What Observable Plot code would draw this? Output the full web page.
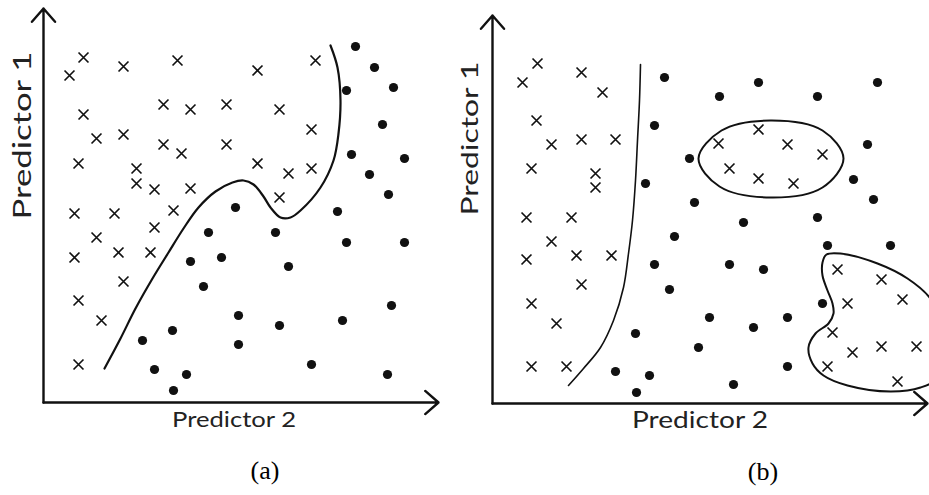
<!DOCTYPE html>
<html><head><meta charset="utf-8">
<script src="https://cdn.jsdelivr.net/npm/d3@7"></script>
<script src="https://cdn.jsdelivr.net/npm/@observablehq/plot@0.6"></script>
<style>
body{margin:0;background:#fff}
#wrap{display:flex;width:929px;height:495px;overflow:hidden;background:#fff}
#wrap svg{flex:none;overflow:visible}
</style>
</head><body><div id="wrap"></div>
<script>
// ---------- data (units: Predictor 2 on x, Predictor 1 on y) ----------
const yLabel = "Predictor 1";
const xLabel = "Predictor 2";
const panelTags = ["(a)", "(b)"];

// panel (a)
const aCrosses = [[40,345],[26,327],[80,336],[134,342],[40,288],[120,298],[147,293],[183,298],[53,264],[80,268],[120,258],[138,249],[183,258],[35,239],[93,234],[93,219],[111,213],[147,214],[272,342],[214,332],[236,293],[268,273],[214,239],[245,229],[268,234],[236,205],[31,189],[71,189],[130,192],[111,175],[53,165],[31,145],[75,150],[107,150],[80,121],[35,102],[58,82],[35,38]];
const aDots = [[312,356],[331,335],[303,312],[350,315],[339,278],[308,248],[361,244],[326,228],[345,208],[294,191],[192,195],[165,170],[147,141],[178,145],[160,116],[195,87],[195,58],[99,62],[129,72],[111,33],[143,28],[130,12],[232,170],[303,160],[361,160],[245,136],[236,77],[299,82],[348,97],[268,38],[344,28]];
const aBoundary = [[61,34],[77,64],[92,94],[109,124],[125,150],[140,174],[155,195],[172,211],[189,220],[200,222],[210,218],[220,206],[227,195],[237,185],[247,185],[257,192],[277,215],[290,242],[295,269],[297,302],[294,335],[287,357]];

// panel (b)
const bCrosses = [[45,340],[30,321],[89,331],[110,311],[44,283],[59,259],[89,264],[123,264],[39,235],[103,230],[103,216],[34,186],[79,186],[59,162],[34,144],[84,148],[119,148],[89,119],[39,100],[64,80],[39,37],[74,37],
  [266,274],[226,260],[295,259],[330,249],[237,235],[266,225],[301,220],
  [345,134],[389,124],[410,104],[355,100],[340,71],[360,51],[389,57],[424,57],[335,37],[405,22]];
const bDots = [[172,326],[162,278],[197,245],[153,220],[202,201],[266,321],[227,307],[325,307],[385,321],[375,259],[361,224],[381,204],[251,181],[325,186],[182,167],[162,139],[177,114],[143,70],[206,56],[123,32],[157,28],[144,11],[335,158],[398,158],[237,139],[271,134],[330,100],[217,86],[261,76],[295,86],[295,37],[241,19]];
const bBoundary = [[148,339],[147,303],[145,263],[143,223],[140,183],[136,150],[131,116],[121,83],[108,56],[91,35],[76,18]];
const bEllipse = [[206,245],[229,273],[278,283],[330,273],[351,245],[330,216],[278,206],[227,217]];
const bBlob = [[330,141],[334,149],[348,150],[385,140],[415,125],[437,106],[453,73],[448,28],[428,16],[398,12],[355,18],[331,28],[320,40],[316,56],[323,70],[336,80],[341,90],[340,100],[335,113],[330,128]];

// ---------- drawing ----------
const ink = "#111";
function panel({width, ml, mr, mt, mb, xMax, yMax, crosses, dots, lines, closed, tag, lab}) {
  const axes = [{x1:0,y1:0,x2:xMax,y2:0},{x1:0,y1:0,x2:0,y2:yMax}];
  const svg = Plot.plot({
    width, height: 495,
    marginLeft: ml, marginRight: mr, marginTop: mt, marginBottom: mb,
    x: {domain: [0, xMax], axis: null},
    y: {domain: [0, yMax], axis: null},
    marks: [
      Plot.arrow(axes, {x1:"x1", y1:"y1", x2:"x2", y2:"y2", stroke: ink, strokeWidth: 2.4, headLength: 11, headAngle: 82, inset: 0}),
      ...lines.map(l => Plot.line(l.data, {x: d => d[0], y: d => d[1], curve: "catmull-rom", stroke: ink, strokeWidth: l.w})),
      ...closed.map(l => Plot.line(l.data, {x: d => d[0], y: d => d[1], curve: "catmull-rom-closed", stroke: ink, strokeWidth: l.w})),
      Plot.dot(crosses, {x: d => d[0], y: d => d[1], symbol: "times", r: 4.6, stroke: ink, strokeWidth: 1.7}),
      Plot.dot(dots, {x: d => d[0], y: d => d[1], r: 4.6, fill: ink, stroke: "none"}),
      Plot.text([yLabel], {frameAnchor: "left", rotate: -90, dx: lab.y1dx, dy: lab.y1dy, fontSize: lab.y1fs, fontFamily: "Lato, 'Open Sans', sans-serif", fill: "#222", className: "lab-y"}),
      Plot.text([xLabel], {frameAnchor: "bottom", dx: lab.x2dx, dy: 24, fontSize: lab.x2fs, fontFamily: "Lato, 'Open Sans', sans-serif", fill: "#222", className: "lab-x"}),
      Plot.text([tag], {frameAnchor: "bottom", dx: lab.tdx, dy: 76, fontSize: 26, fontFamily: "'Liberation Serif', 'Times New Roman', serif", fill: "#000"})
    ]
  });
  d3.select(svg).selectAll(".lab-y text").attr("textLength", lab.y1len).attr("lengthAdjust", "spacingAndGlyphs");
  d3.select(svg).selectAll(".lab-x text").attr("textLength", lab.x2len).attr("lengthAdjust", "spacingAndGlyphs");
  return svg;
}

const wrap = document.getElementById("wrap");
wrap.append(panel({
  width: 460, ml: 43, mr: 22, mt: 8, mb: 93, xMax: 395, yMax: 394,
  crosses: aCrosses, dots: aDots,
  lines: [{data: aBoundary, w: 2.2}], closed: [],
  tag: panelTags[0],
  lab: {y1dx: -21, y1dy: 14, y1fs: 25, y1len: 168, x2dx: -7, x2fs: 22, x2len: 124, tdx: 24}
}));
wrap.append(panel({
  width: 469, ml: 32, mr: 2, mt: 15, mb: 92, xMax: 435, yMax: 388,
  crosses: bCrosses, dots: bDots,
  lines: [{data: bBoundary, w: 1.6}], closed: [{data: bEllipse, w: 2}, {data: bBlob, w: 2}],
  tag: panelTags[1],
  lab: {y1dx: -22, y1dy: 6, y1fs: 24, y1len: 154, x2dx: -10, x2fs: 23, x2len: 136, tdx: 53}
}));
</script>
</body></html>
